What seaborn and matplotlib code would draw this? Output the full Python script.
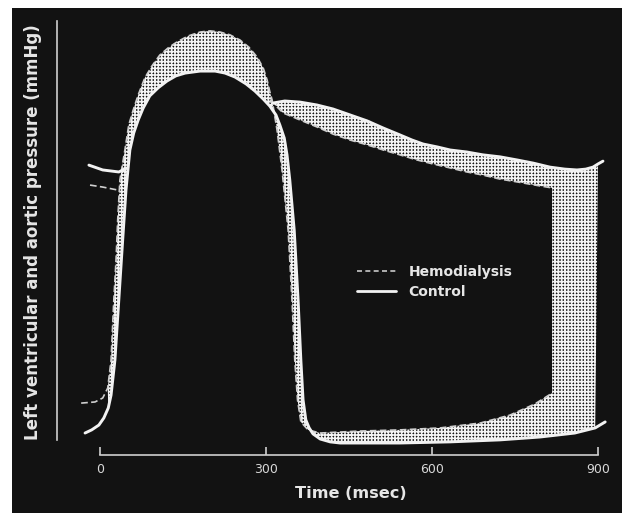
import numpy as np
import pandas as pd
import seaborn as sns
import matplotlib.pyplot as plt
from matplotlib.lines import Line2D

# Time in msec, pressure in mmHg
# Control: left ventricular pressure
control_lv_t = [-27, -15, -2, 7, 15, 20, 27, 34, 41, 47, 54, 61, 69, 78, 90, 105, 121, 137, 154, 181, 208,
                226, 244, 264, 280, 295, 307, 318, 325, 333, 338, 343, 351, 358, 363, 367, 372, 378, 385,
                398, 416, 434, 542, 633, 723, 795, 858, 895, 913]
control_lv_p = [3.5, 4.6, 6.3, 8.8, 12.3, 16.8, 29.1, 50.2, 71.2, 88.8, 102.8, 108.8, 113.3, 117.5, 121.8,
                124.6, 127.0, 128.8, 129.8, 130.5, 130.5, 129.8, 128.4, 126.0, 123.5, 120.7, 118.2, 115.1,
                111.6, 107.0, 101.1, 92.3, 74.7, 50.2, 29.1, 15.1, 8.1, 5.3, 3.2, 1.4, 0.4, 0.0, 0.0, 0.4,
                1.1, 2.1, 3.5, 5.3, 7.4]

# Control: aortic pressure (before and after ejection)
control_ao_pre_t = [-20, 5, 34, 49]
control_ao_pre_p = [97.5, 95.8, 95.1, 96.5]
control_ao_t = [313, 334, 362, 392, 421, 452, 483, 512, 542, 564, 584, 609, 633, 663, 692, 723, 754, 783,
                813, 840, 862, 878, 891, 900, 909]
control_ao_p = [119.3, 120.0, 119.6, 118.6, 117.2, 115.1, 113.0, 110.5, 108.1, 106.3, 104.9, 103.9, 102.8,
                102.1, 101.1, 100.4, 99.3, 98.2, 96.8, 96.1, 95.8, 96.1, 96.8, 97.9, 98.9]

# Hemodialysis: left ventricular pressure
hemo_lv_t = [-34, -9, 5, 14, 20, 25, 29, 32, 36, 45, 52, 60, 69, 81, 94, 108, 123, 139, 159, 181, 199,
             217, 235, 253, 269, 284, 295, 302, 307, 311, 320, 329, 340, 347, 352, 357, 363, 376, 398,
             470, 542, 615, 687, 741, 786, 817]
hemo_lv_p = [14.0, 14.4, 15.8, 19.3, 29.1, 50.2, 64.2, 78.2, 92.3, 102.8, 111.6, 116.8, 122.1, 128.1,
             132.3, 136.1, 138.6, 140.7, 142.8, 144.2, 144.6, 144.2, 143.2, 141.4, 138.9, 135.4, 131.6,
             127.4, 123.2, 120.4, 109.8, 95.8, 74.7, 50.2, 29.1, 15.1, 7.4, 4.6, 3.5, 4.2, 4.6, 5.3, 7.0,
             9.8, 13.7, 17.5]

# Hemodialysis: aortic pressure
hemo_ao_pre_t = [-18, 5, 31]
hemo_ao_pre_p = [90.5, 89.8, 88.8]
hemo_ao_t = [307, 331, 362, 392, 421, 452, 483, 512, 542, 573, 602, 633, 663, 692, 723, 754, 786, 817]
hemo_ao_p = [120.4, 115.8, 113.3, 110.9, 108.4, 106.3, 104.6, 102.8, 101.1, 99.3, 97.9, 96.5, 95.1, 94.0,
             92.6, 91.6, 90.5, 89.5]

time_ticks = [0, 300, 600, 900]

sns.set_theme(style='ticks')
plt.rcParams['font.family'] = ['DejaVu Sans']
plt.rcParams['hatch.color'] = 'white'
plt.rcParams['hatch.linewidth'] = 1.2

fg = '#e6e6e6'
fig = plt.figure(figsize=(6.23, 5.13), dpi=100, facecolor='white')
ax = fig.add_axes([12 / 623, 0, 610 / 623, 505 / 513])
ax.set_facecolor('#121212')

ct, cp = np.array(control_lv_t), np.array(control_lv_p)
at, ap = np.array(control_ao_t), np.array(control_ao_p)
ht, hp = np.array(hemo_lv_t), np.array(hemo_lv_p)
bt, bp = np.array(hemo_ao_t), np.array(hemo_ao_p)

# Shaded difference during systole (hemodialysis LV outside control LV)
mh = (ht >= 14) & (ht <= 398)
mc = (ct >= 15) & (ct <= 398)
sys_x = np.concatenate([ht[mh], ct[mc][::-1]])
sys_y = np.concatenate([hp[mh], cp[mc][::-1]])
ax.fill(sys_x, sys_y, facecolor='none', edgecolor='#f4f4f4', linewidth=0, hatch='+++++')

# Shaded difference during diastole (aortic band, end of cycle block, LV band)
ma = at <= 900
mc2 = (ct >= 398) & (ct <= 900)
mh2 = ht >= 398
dia_x = np.concatenate([at[ma], ct[mc2][::-1], ht[mh2], bt[::-1]])
dia_y = np.concatenate([ap[ma], cp[mc2][::-1], hp[mh2], bp[::-1]])
ax.fill(dia_x, dia_y, facecolor='none', edgecolor='#f4f4f4', linewidth=0, hatch='+++++')

# Hemodialysis curves (dashed)
for t, p in [(hemo_lv_t, hemo_lv_p), (hemo_ao_pre_t, hemo_ao_pre_p), (hemo_ao_t, hemo_ao_p)]:
    sns.lineplot(x=t, y=p, sort=False, estimator=None, ax=ax, color='#cfcfcf',
                 linewidth=1.2, linestyle=(0, (4, 2)))

# Control curves (solid)
for t, p in [(control_lv_t, control_lv_p), (control_ao_pre_t, control_ao_pre_p), (control_ao_t, control_ao_p)]:
    sns.lineplot(x=t, y=p, sort=False, estimator=None, ax=ax, color='#f2f2f2', linewidth=2.1,
                 solid_joinstyle='round', solid_capstyle='round')

ax.set_xlim(-159, 943.4)
ax.set_ylim(-24.56, 152.63)

sns.despine(ax=ax, top=True, right=True)
ax.spines['left'].set_position(('data', -78))
ax.spines['left'].set_bounds(1, 148)
ax.spines['bottom'].set_position(('data', -4.2))
ax.spines['bottom'].set_bounds(0, 900)
for s in ['left', 'bottom']:
    ax.spines[s].set_color('#cfcfcf')
    ax.spines[s].set_linewidth(1.2)

ax.set_xticks(time_ticks)
ax.set_xticklabels([str(v) for v in time_ticks])
ax.set_yticks([])
ax.tick_params(axis='x', direction='in', length=6, width=1.2, colors='#cfcfcf',
               pad=6, labelsize=9, labelcolor='#d8d8d8')

ax.set_xlabel('Time (msec)', color=fg, fontsize=11.6, fontweight='bold')
ax.xaxis.set_label_coords(0.555, 0.054)
ax.set_ylabel('Left ventricular and aortic pressure (mmHg)', color=fg, fontsize=12,
              fontweight='bold')
ax.yaxis.set_label_coords(0.049, 0.556)

handles = [Line2D([], [], color='#c8c8c8', linewidth=1.2, linestyle=(0, (3, 2))),
           Line2D([], [], color='#f2f2f2', linewidth=2.0)]
ax.legend(handles, ['Hemodialysis', 'Control'], loc='upper left', bbox_to_anchor=(0.545, 0.516),
          frameon=False, labelcolor=fg, handlelength=2.8, handletextpad=0.9, labelspacing=0.45,
          prop={'weight': 'bold', 'size': 10})

fig.savefig('out.png', dpi=100, facecolor='white')
